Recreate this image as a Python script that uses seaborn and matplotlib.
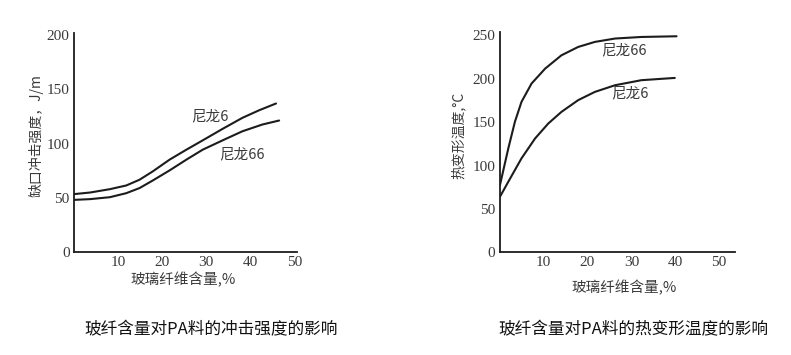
import pandas as pd
import seaborn as sns
import matplotlib.pyplot as plt

# impact strength vs glass fibre content (left chart)
impact_x_pa6 = [0, 3.7, 8.2, 11.9, 14.9, 17.9, 21.7, 25.5, 29.2, 33.7, 38.2, 42.0, 45.8]
impact_y_pa6 = [53.4, 54.9, 58.0, 61.4, 66.7, 74.4, 85.2, 94.4, 103.0, 113.6, 123.8, 130.8, 137.0]
impact_x_pa66 = [0, 3.7, 8.2, 11.9, 14.9, 17.9, 21.7, 25.5, 29.2, 33.7, 38.2, 42.7, 46.5]
impact_y_pa66 = [48.1, 48.8, 50.6, 54.3, 59.0, 66.0, 75.3, 85.2, 94.4, 103.0, 111.4, 117.6, 121.3]

# heat deflection temperature vs glass fibre content (right chart)
hdt_x = [0.1, 2.0, 3.5, 5.0, 7.3, 10.4, 14.1, 17.9, 21.7, 26.3, 32.3, 40.3]
hdt_y_pa66 = [77.4, 119.7, 150.3, 173.3, 194.5, 211.7, 227.0, 236.6, 242.4, 246.3, 248.1, 248.9]
hdt_x_pa6 = [0.1, 2.0, 5.0, 8.1, 11.1, 14.1, 17.9, 21.7, 26.3, 32.3, 39.9]
hdt_y_pa6 = [64.0, 81.3, 108.2, 131.2, 148.4, 161.8, 175.3, 184.8, 192.5, 198.3, 200.9]

left_ticks_x = [10, 20, 30, 40, 50]
left_ticks_y = [0, 50, 100, 150, 200]
right_ticks_x = [10, 20, 30, 40, 50]
right_ticks_y = [0, 50, 100, 150, 200, 250]

sns.set_style("white")
plt.rcParams['font.family'] = ['Noto Sans CJK SC', 'DejaVu Sans']

ink = '#1c1c1c'
text_col = '#3a3a3a'

df_impact = pd.concat([
    pd.DataFrame({'x': impact_x_pa6, 'y': impact_y_pa6, 'grade': '尼龙6'}),
    pd.DataFrame({'x': impact_x_pa66, 'y': impact_y_pa66, 'grade': '尼龙66'}),
])
df_hdt = pd.concat([
    pd.DataFrame({'x': hdt_x, 'y': hdt_y_pa66, 'grade': '尼龙66'}),
    pd.DataFrame({'x': hdt_x_pa6, 'y': hdt_y_pa6, 'grade': '尼龙6'}),
])

fig = plt.figure(figsize=(7.91, 3.55), dpi=100)
ax1 = fig.add_axes([0.0932, 0.290, 0.282, 0.617])
ax2 = fig.add_axes([0.6315, 0.2893, 0.2977, 0.621])

pal = {'尼龙6': ink, '尼龙66': ink}
sns.lineplot(data=df_impact, x='x', y='y', hue='grade', palette=pal,
             legend=False, linewidth=1.5, ax=ax1)
sns.lineplot(data=df_hdt, x='x', y='y', hue='grade', palette=pal,
             legend=False, linewidth=1.5, ax=ax2)


def style_axis(ax, xt, yt, xmax, ymax):
    ax.set_xlim(0, xmax)
    ax.set_ylim(0, ymax)
    ax.set_xticks(xt)
    ax.set_yticks(yt)
    for side in ['top', 'right']:
        ax.spines[side].set_visible(False)
    for side in ['left', 'bottom']:
        ax.spines[side].set_color(ink)
        ax.spines[side].set_linewidth(1.3)
    ax.tick_params(direction='in', length=5, width=1, colors=ink,
                   labelcolor=text_col, labelsize=11, pad=3)
    for lab in ax.get_xticklabels() + ax.get_yticklabels():
        lab.set_family('Liberation Serif')
    ax.set_facecolor('white')


style_axis(ax1, left_ticks_x, left_ticks_y, 50.5, 202)
style_axis(ax2, right_ticks_x, right_ticks_y, 53.6, 254)

ax1.set_xlabel('玻璃纤维含量,%', fontsize=10.5, color=text_col)
ax1.set_ylabel('缺口冲击强度，J/m', fontsize=10, color=text_col)
ax1.xaxis.set_label_coords(0.49, -0.09)
ax1.yaxis.set_label_coords(-0.133, 0.53)

ax2.set_xlabel('玻璃纤维含量,%', fontsize=10.5, color=text_col)
ax2.set_ylabel('热变形温度,°C', fontsize=10, color=text_col)
ax2.xaxis.set_label_coords(0.53, -0.125)
ax2.yaxis.set_label_coords(-0.145, 0.53)

ax1.text(26.6, 125, '尼龙6', fontsize=10.5, color=text_col, va='center')
ax1.text(33.0, 90, '尼龙66', fontsize=10.5, color=text_col, va='center')
ax2.text(23.2, 233, '尼龙66', fontsize=10.5, color=text_col, va='center')
ax2.text(25.5, 183, '尼龙6', fontsize=10.5, color=text_col, va='center')

fig.text(0.107, 0.07, '玻纤含量对PA料的冲击强度的影响', fontsize=12, color='#111111',
         va='center', ha='left')
fig.text(0.630, 0.07, '玻纤含量对PA料的热变形温度的影响', fontsize=12, color='#111111',
         va='center', ha='left')

fig.savefig('out.png', dpi=100)
